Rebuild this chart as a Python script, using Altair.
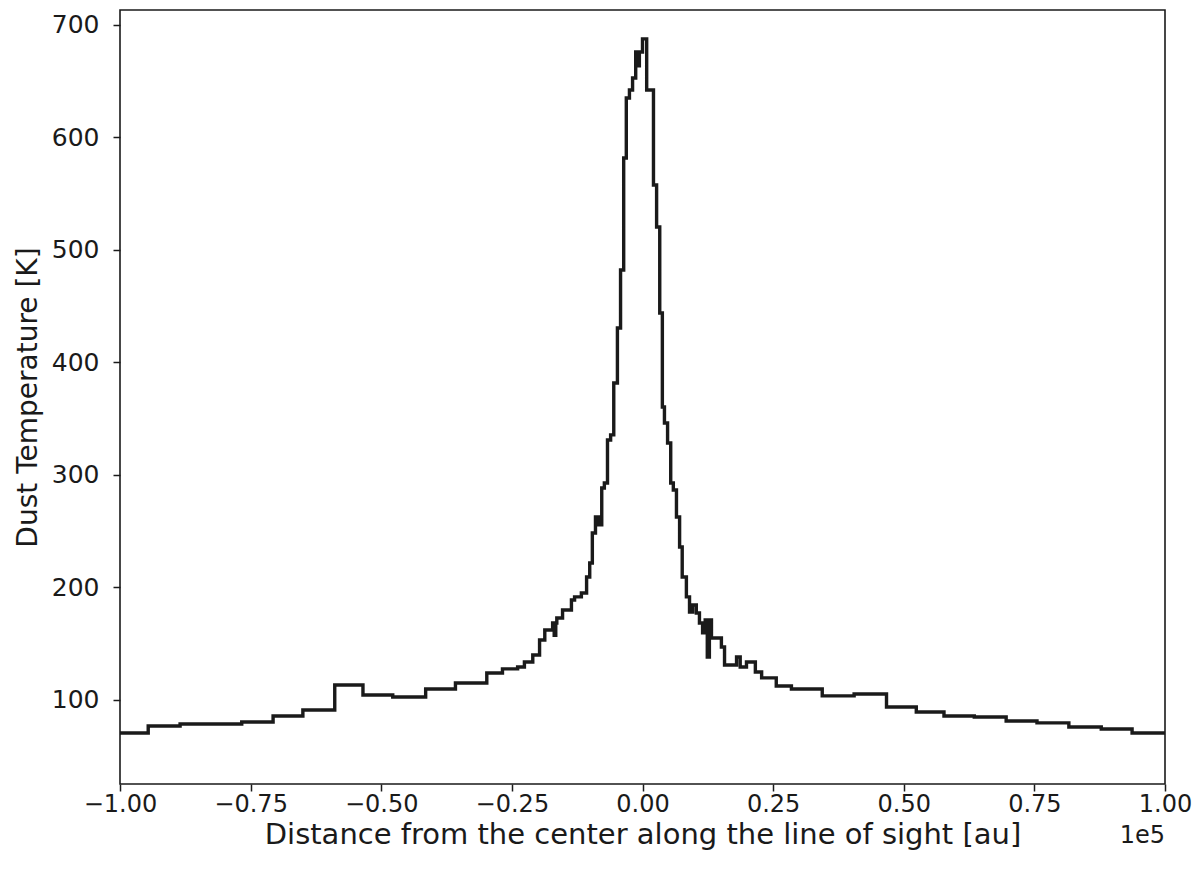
import altair as alt
import pandas as pd

# Step start positions (in units of 1e5 au) and dust temperature [K]
x_left = [-1.000, -0.946, -0.885, -0.767, -0.707, -0.650, -0.589, -0.535, -0.478, -0.415,
          -0.358, -0.298, -0.268, -0.239, -0.226, -0.210, -0.197, -0.187, -0.172, -0.169,
          -0.166, -0.164, -0.153, -0.136, -0.130, -0.117, -0.107, -0.101, -0.096, -0.090,
          -0.084, -0.078, -0.073, -0.067, -0.061, -0.055, -0.048, -0.042, -0.036, -0.031,
          -0.025, -0.019, -0.013, -0.010, -0.006]
t_left = [70.7, 76.9, 78.7, 80.4, 85.8, 91.1, 113.3, 104.4, 102.7, 109.8,
          115.1, 124.0, 127.6, 129.3, 133.8, 140.0, 153.3, 162.2, 168.4, 157.5,
          168.4, 172.9, 180.0, 188.9, 191.6, 195.1, 209.3, 221.8, 248.4, 262.7,
          255.6, 288.4, 292.9, 331.1, 335.6, 381.8, 430.7, 482.2, 581.8, 635.1,
          642.2, 652.9, 676.0, 663.6, 676.0]

x_right = [0.000, 0.008, 0.021, 0.027, 0.033, 0.038, 0.042, 0.048, 0.054, 0.059,
           0.065, 0.071, 0.076, 0.084, 0.090, 0.096, 0.103, 0.109, 0.115, 0.120,
           0.124, 0.128, 0.132, 0.151, 0.157, 0.180, 0.187, 0.199, 0.216, 0.228,
           0.256, 0.285, 0.344, 0.405, 0.467, 0.524, 0.577, 0.635, 0.696, 0.755,
           0.816, 0.878, 0.937, 1.000]
t_right = [687.6, 642.2, 557.8, 520.4, 444.0, 360.4, 346.2, 328.4, 292.9, 286.7,
           262.7, 236.0, 209.3, 191.6, 178.2, 184.4, 177.3, 168.4, 159.6, 171.1,
           138.2, 171.1, 155.1, 147.1, 131.1, 138.2, 129.3, 133.8, 124.9, 119.6,
           112.4, 109.8, 103.6, 105.3, 93.8, 89.3, 85.8, 84.9, 81.3, 79.6,
           76.0, 74.2, 70.7, 70.7]

x_ticks = [-1.0, -0.75, -0.5, -0.25, 0.0, 0.25, 0.5, 0.75, 1.0]
y_ticks = [100, 200, 300, 400, 500, 600, 700]

df = pd.DataFrame({"x": x_left + x_right, "T": t_left + t_right})

W, H = 1045, 774
FONT = "DejaVu Sans"
INK = "#1a1a1a"

line = alt.Chart(df).mark_line(
    interpolate="step-after", color=INK, strokeWidth=3.4
).encode(
    x=alt.X("x:Q",
            scale=alt.Scale(domain=[-1, 1], nice=False, zero=False),
            axis=alt.Axis(values=x_ticks, format=".2f",
                          title="Distance from the center along the line of sight [au]",
                          grid=False, tickSize=7, tickWidth=1.5, tickColor=INK,
                          domain=False, labelFont=FONT, labelFontSize=24,
                          labelColor=INK, labelPadding=1, labelFlush=False,
                          titleFont=FONT, titleFontSize=29, titleFontWeight="normal",
                          titleColor=INK, titlePadding=4)),
    y=alt.Y("T:Q",
            scale=alt.Scale(domain=[25.3, 713.3], nice=False, zero=False),
            axis=alt.Axis(values=y_ticks, format="d",
                          title="Dust Temperature [K]",
                          grid=False, tickSize=7, tickWidth=1.5, tickColor=INK,
                          domain=False, labelFont=FONT, labelFontSize=25,
                          labelColor=INK, labelPadding=14, labelFlush=False,
                          titleFont=FONT, titleFontSize=28, titleFontWeight="normal",
                          titleColor=INK, titlePadding=9)),
)

offset = alt.Chart(pd.DataFrame({"t": ["1e5"]})).mark_text(
    font=FONT, fontSize=24, color=INK, align="right", baseline="middle"
).encode(text="t:N", x=alt.value(W), y=alt.value(H + 52))

chart = alt.layer(line, offset).properties(
    width=W, height=H,
    background="white",
    autosize=alt.AutoSizeParams(type="none"),
    padding={"left": 112, "top": 2, "right": 27, "bottom": 84},
).configure_view(
    stroke=INK, strokeWidth=1.6
)

chart.save("out.html", embed_options={"renderer": "svg", "actions": False})
